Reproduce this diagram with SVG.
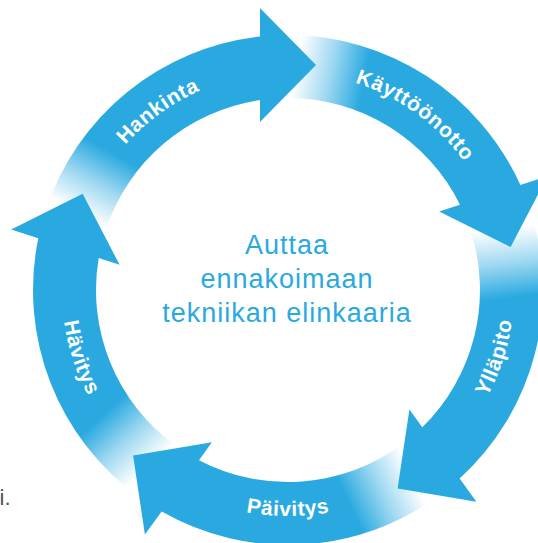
<svg xmlns="http://www.w3.org/2000/svg" width="538" height="543" viewBox="0 0 538 543">
<style>
.arrow{fill:url(#fade);}
.lbl{font-family:"Liberation Sans",Arial,sans-serif;font-weight:bold;font-size:21px;letter-spacing:0.6px;fill:#ffffff;text-anchor:middle;}
.ctr{font-family:"Liberation Sans",Arial,sans-serif;font-size:27px;letter-spacing:1px;fill:#29a9e0;text-anchor:middle;}
</style>
<defs>
<linearGradient id="fade" gradientUnits="userSpaceOnUse" x1="-210" y1="-76.4" x2="-176.1" y2="-137.6">
<stop offset="0" stop-color="#29a9e0" stop-opacity="0"/>
<stop offset="0.5" stop-color="#29a9e0" stop-opacity="0.45"/>
<stop offset="1" stop-color="#29a9e0" stop-opacity="1"/>
</linearGradient>
<path id="cw" d="M -211.5 -52.7 A 218 218 0 0 1 15.2 -217.5"/>
<path id="ccw" d="M 15.8 -225.5 A 226 226 0 0 0 -219.3 -54.7"/>
</defs>
<rect width="538" height="543" fill="#ffffff"/>
<g id="connectors">
<g id="arrow-hankinta" transform="translate(288 290) rotate(0)">
<path class="arrow" d="M -242.5 -78.8 A 255 255 0 0 1 -28 -253.46 L -28 -282 L 28 -225 L -28 -168 L -28 -189.95 A 192 192 0 0 0 -182.6 -59.3 Z"/>
</g>
<g id="arrow-kayttoonotto" transform="translate(288 290) rotate(72)">
<path class="arrow" d="M -242.5 -78.8 A 255 255 0 0 1 -28 -253.46 L -28 -282 L 28 -225 L -28 -168 L -28 -189.95 A 192 192 0 0 0 -182.6 -59.3 Z"/>
</g>
<g id="arrow-yllapito" transform="translate(288 290) rotate(144)">
<path class="arrow" d="M -242.5 -78.8 A 255 255 0 0 1 -28 -253.46 L -28 -282 L 28 -225 L -28 -168 L -28 -189.95 A 192 192 0 0 0 -182.6 -59.3 Z"/>
</g>
<g id="arrow-paivitys" transform="translate(288 290) rotate(216)">
<path class="arrow" d="M -242.5 -78.8 A 255 255 0 0 1 -28 -253.46 L -28 -282 L 28 -225 L -28 -168 L -28 -189.95 A 192 192 0 0 0 -182.6 -59.3 Z"/>
</g>
<g id="arrow-havitys" transform="translate(288 290) rotate(288)">
<path class="arrow" d="M -242.5 -78.8 A 255 255 0 0 1 -28 -253.46 L -28 -282 L 28 -225 L -28 -168 L -28 -189.95 A 192 192 0 0 0 -182.6 -59.3 Z"/>
</g>
</g>
<g id="node-hankinta" transform="translate(288 290) rotate(0)">
<text class="lbl"><textPath href="#cw" startOffset="50%">Hankinta</textPath></text>
</g>
<g id="node-kayttoonotto" transform="translate(288 290) rotate(72)">
<text class="lbl"><textPath href="#cw" startOffset="50%">Käyttöönotto</textPath></text>
</g>
<g id="node-yllapito" transform="translate(288 290) rotate(144)">
<text class="lbl"><textPath href="#ccw" startOffset="50%">Ylläpito</textPath></text>
</g>
<g id="node-paivitys" transform="translate(288 290) rotate(216)">
<text class="lbl"><textPath href="#ccw" startOffset="50%">Päivitys</textPath></text>
</g>
<g id="node-havitys" transform="translate(288 290) rotate(288)">
<text class="lbl"><textPath href="#ccw" startOffset="50%">Hävitys</textPath></text>
</g>
<g id="node-center">
<text class="ctr" x="287" y="254">Auttaa</text>
<text class="ctr" x="287" y="288">ennakoimaan</text>
<text class="ctr" x="287" y="322">tekniikan elinkaaria</text>
</g>
<text x="-0.5" y="505" font-family="Liberation Sans, Arial, sans-serif" font-size="22" fill="#555555">i.</text>
</svg>
